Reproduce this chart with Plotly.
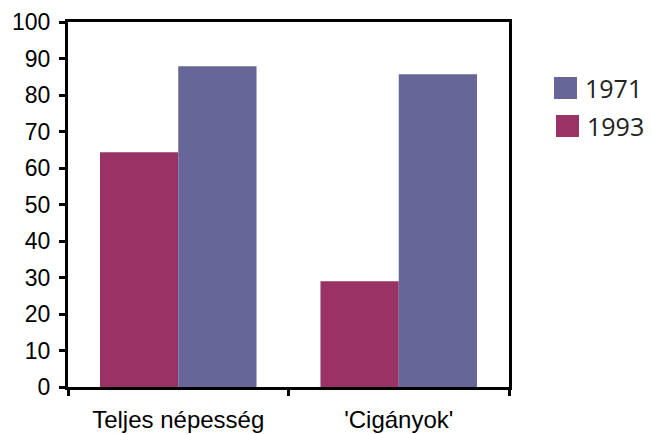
import plotly.graph_objects as go

categories = ["Teljes népesség", "'Cigányok'"]
years = ["1971", "1993"]
values_1993 = [64.3, 29.0]
values_1971 = [87.9, 85.7]
colors = {"1971": "#666699", "1993": "#993366"}

fig = go.Figure()
fig.add_trace(go.Bar(x=categories, y=values_1993, name="1993",
                     marker=dict(color=colors["1993"], line=dict(width=0)), showlegend=False))
fig.add_trace(go.Bar(x=categories, y=values_1971, name="1971",
                     marker=dict(color=colors["1971"], line=dict(width=0)), showlegend=False))

# page has an 8px body margin; plot area in page pixels: x 68..509, y 22..387
OFF = 8
PL, PR, PT, PB = 68, 509, 22, 387
FW, FH = 652 - OFF, 434 - OFF
def px(x): return (x - PL) / (PR - PL)
def py(y): return (PB - y) / (PB - PT)

legend_items = [("1971", 554, 77), ("1993", 556, 115)]
for name, x0, y0 in legend_items:
    fig.add_shape(type="rect", xref="paper", yref="paper",
                  x0=px(x0), x1=px(x0 + 23), y0=py(y0 + 22), y1=py(y0),
                  fillcolor=colors[name], line=dict(width=0))
    fig.add_annotation(xref="paper", yref="paper", x=px(x0 + 29), y=py(y0 + 11),
                       text=name, showarrow=False, xanchor="left", yanchor="middle",
                       font=dict(family="Open Sans", size=25, color="#222222"))

fig.update_layout(
    width=FW, height=FH,
    margin=dict(l=PL - OFF, r=OFF + FW - PR, t=PT - OFF, b=OFF + FH - PB, autoexpand=False),
    paper_bgcolor="white", plot_bgcolor="white",
    barmode="group", bargap=0.29, bargroupgap=0,
    font=dict(family="Liberation Sans, Arial", size=24, color="black"),
)
fig.update_xaxes(showline=True, linecolor="black", linewidth=3, mirror=True,
                 ticks="outside", tickson="boundaries", ticklen=6, tickwidth=2.5,
                 tickcolor="black", showgrid=False, automargin=False,
                 ticklabelstandoff=9,
                 tickfont=dict(family="Liberation Sans, Arial", size=24))
fig.update_yaxes(range=[0, 100], dtick=10, showline=True, linecolor="black", linewidth=3,
                 mirror=True, ticks="outside", ticklen=6, tickwidth=2.5, tickcolor="black",
                 showgrid=False, zeroline=False, automargin=False,
                 ticklabelstandoff=4,
                 tickfont=dict(family="Liberation Sans, Arial", size=23))

fig.write_html("out.html")
